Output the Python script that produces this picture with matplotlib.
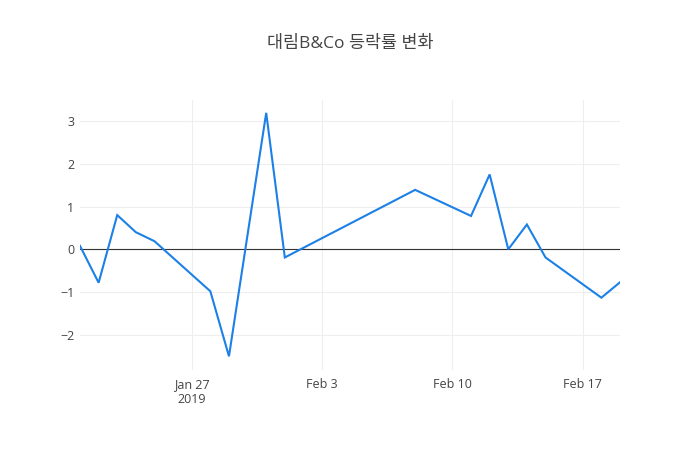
import numpy as np
import pandas as pd
import matplotlib
matplotlib.use("Agg")
import matplotlib.pyplot as plt
import matplotlib.dates as mdates

# --- datos ---
fechas = pd.to_datetime([
    "2019-01-21", "2019-01-22", "2019-01-23", "2019-01-24", "2019-01-25",
    "2019-01-28", "2019-01-29", "2019-01-31", "2019-02-01", "2019-02-08",
    "2019-02-11", "2019-02-12", "2019-02-13", "2019-02-14", "2019-02-15",
    "2019-02-18", "2019-02-19",
])
cambio = [0.08, -0.78, 0.80, 0.40, 0.19, -0.98, -2.50, 3.19, -0.19, 1.39,
          0.78, 1.75, 0.00, 0.58, -0.19, -1.13, -0.77]

titulo = "대림B&Co 등락률 변화"
ticks_x = pd.to_datetime(["2019-01-27", "2019-02-03", "2019-02-10", "2019-02-17"])
etiquetas_x = ["Jan 27\n2019", "Feb 3", "Feb 10", "Feb 17"]
ticks_y = [-2, -1, 0, 1, 2, 3]

fuentes = ["Open Sans", "Noto Sans CJK KR", "DejaVu Sans"]
plt.rcParams["font.family"] = fuentes
gris = "#444444"

fig = plt.figure(figsize=(7, 4.5), dpi=100)
ax = fig.add_axes([80 / 700, 80 / 450, 540 / 700, 270 / 450])

ax.plot(fechas, cambio, color="#1c80e6", lw=1.5, solid_joinstyle="miter", zorder=3)
ax.axhline(0, color="#333333", lw=0.8, zorder=2)

ax.set_xlim(fechas[0], fechas[-1])
ax.set_ylim(-2.82, 3.49)
ax.set_xticks(ticks_x)
ax.set_xticklabels(etiquetas_x)
ax.set_yticks(ticks_y)
ax.set_yticklabels([f"{v}".replace("-", "\u2212") for v in ticks_y])

ax.grid(True, color="#eeeeee", lw=0.75, zorder=0)
ax.set_axisbelow(True)
for s in ax.spines.values():
    s.set_visible(False)
ax.tick_params(axis="both", length=0, labelsize=9, labelcolor=gris)
ax.tick_params(axis="x", pad=6)
ax.tick_params(axis="y", pad=4)

fig.text(0.5, 1 - 44 / 450, titulo, ha="center", va="center",
         fontsize=12.5, color=gris)

fig.savefig("out.png", dpi=100)
